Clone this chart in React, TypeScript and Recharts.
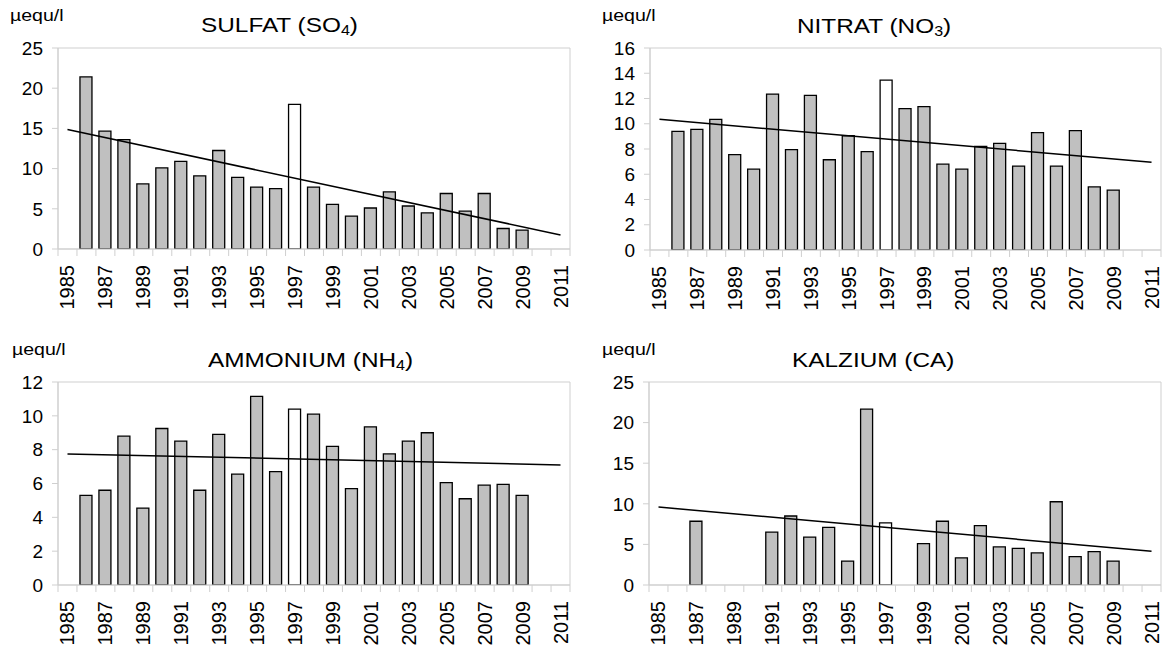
import React from "react";
import { ComposedChart, Bar, Line, XAxis, YAxis, Cell, ReferenceArea } from "recharts";

// categories 1985..2011, bars only where measured
const years = [
  "1985", "1986", "1987", "1988", "1989", "1990", "1991", "1992", "1993",
  "1994", "1995", "1996", "1997", "1998", "1999", "2000", "2001", "2002",
  "2003", "2004", "2005", "2006", "2007", "2008", "2009", "2010", "2011",
];

const sulfat = [
  null, 21.4, 14.65, 13.6, 8.1, 10.1, 10.9, 9.1, 12.25, 8.9, 7.7, 7.5, 18.0,
  7.7, 5.55, 4.1, 5.1, 7.1, 5.35, 4.5, 6.9, 4.7, 6.9, 2.55, 2.35, null, null,
];
const nitrat = [
  null, 9.4, 9.55, 10.35, 7.55, 6.4, 12.35, 7.95, 12.25, 7.15, 9.05, 7.8, 13.45,
  11.2, 11.35, 6.8, 6.4, 8.2, 8.45, 6.65, 9.3, 6.65, 9.45, 5.0, 4.75, null, null,
];
const ammonium = [
  null, 5.3, 5.6, 8.8, 4.55, 9.25, 8.5, 5.6, 8.9, 6.55, 11.15, 6.7, 10.4,
  10.1, 8.2, 5.7, 9.35, 7.75, 8.5, 9.0, 6.05, 5.1, 5.9, 5.95, 5.3, null, null,
];
const kalzium = [
  null, null, 7.85, null, null, null, 6.5, 8.5, 5.9, 7.1, 2.95, 21.65, 7.65,
  null, 5.1, 7.85, 3.35, 7.3, 4.7, 4.5, 3.95, 10.25, 3.5, 4.1, 2.95, null, null,
];

// trend line values at 1985 and 2011
const sulfatTrend = [14.85, 1.75];
const nitratTrend = [10.35, 6.95];
const ammoniumTrend = [7.75, 7.1];
const kalziumTrend = [9.6, 4.15];

const sulfatTicks = [0, 5, 10, 15, 20, 25];
const nitratTicks = [0, 2, 4, 6, 8, 10, 12, 14, 16];
const ammoniumTicks = [0, 2, 4, 6, 8, 10, 12];
const kalziumTicks = [0, 5, 10, 15, 20, 25];

const markedYear = "1997";

const FONT = "'Liberation Sans', Arial, sans-serif";
const GREY = "#cfcfcf";

function buildRows(values: (number | null)[], trend: number[]) {
  return years.map((year, i) => ({
    year,
    value: values[i],
    trend: i === 0 ? trend[0] : i === years.length - 1 ? trend[1] : null,
  }));
}

function YearTick(props: any) {
  const { x, y, payload, index } = props;
  const half = payload.offset ?? 9.5;
  const show = Number(payload.value) % 2 === 1;
  const ty = y + 16;
  return (
    <g>
      <line x1={x - half} x2={x - half} y1={y} y2={y + 7} stroke={GREY} />
      {index === years.length - 1 && (
        <line x1={x + half} x2={x + half} y1={y} y2={y + 7} stroke={GREY} />
      )}
      {show && (
        <text
          x={x}
          y={ty}
          transform={`rotate(-90 ${x} ${ty})`}
          textAnchor="end"
          dominantBaseline="central"
          fontSize={20}
          fontFamily={FONT}
          fill="#000"
        >
          {payload.value}
        </text>
      )}
    </g>
  );
}

function Panel(p: any) {
  const rows = buildRows(p.values, p.trend);
  const yMax = p.ticks[p.ticks.length - 1];
  return (
    <div style={{ position: "absolute", left: p.left, top: p.top, width: p.width, height: p.height }}>
      <div
        style={{
          position: "absolute",
          left: p.unitLeft - p.left,
          top: p.unitTop - p.top,
          fontFamily: FONT,
          fontSize: 16,
          lineHeight: 1,
          whiteSpace: "nowrap",
          transform: "scaleX(1.22)",
          transformOrigin: "left",
        }}
      >
        µequ/l
      </div>
      <div
        style={{
          position: "absolute",
          left: p.titleLeft - p.left,
          top: p.titleTop - p.top,
          fontFamily: FONT,
          fontSize: 21,
          lineHeight: 1,
          whiteSpace: "nowrap",
          transform: "scaleX(1.16)",
          transformOrigin: "left",
        }}
      >
        {p.name} ({p.formula}
        {p.sub && <span style={{ fontSize: "0.66em", verticalAlign: "-0.2em" }}>{p.sub}</span>})
      </div>
      <ComposedChart
        width={p.width}
        height={p.height}
        data={rows}
        margin={{ top: p.plotTop, right: p.right, bottom: 0, left: 0 }}
        style={{ position: "absolute", left: 0, top: 0 }}
      >
        <XAxis
          dataKey="year"
          interval={0}
          tickLine={false}
          tickSize={0}
          tickMargin={0}
          height={p.xHeight}
          axisLine={{ stroke: GREY }}
          tick={(t: any) => <YearTick {...t} />}
        />
        <YAxis
          type="number"
          domain={[0, yMax]}
          ticks={p.ticks}
          interval={0}
          width={p.yWidth}
          tickSize={6}
          tickMargin={9}
          axisLine={{ stroke: GREY }}
          tickLine={{ stroke: GREY }}
          tick={{ fontSize: 19, fill: "#000", fontFamily: FONT }}
          allowDataOverflow
        />
        <ReferenceArea
          x1={years[0]}
          x2={years[years.length - 1]}
          y1={0}
          y2={yMax}
          fill="none"
          stroke={GREY}
          strokeWidth={1}
          ifOverflow="visible"
        />
        <Bar dataKey="value" barSize={12} stroke="#000" strokeWidth={1.3} isAnimationActive={false}>
          {rows.map((r) => (
            <Cell key={r.year} fill={r.year === markedYear ? "#ffffff" : "#c0c0c0"} />
          ))}
        </Bar>
        <Line
          dataKey="trend"
          type="linear"
          connectNulls
          dot={false}
          activeDot={false}
          stroke="#000"
          strokeWidth={1.5}
          isAnimationActive={false}
        />
      </ComposedChart>
    </div>
  );
}

export default function App() {
  return (
    <div style={{ position: "absolute", left: 0, top: 0, width: 1162, height: 645, overflow: "hidden", background: "#fff" }}>
      <Panel
        name="SULFAT" formula="SO" sub="4"
        values={sulfat} trend={sulfatTrend} ticks={sulfatTicks}
        left={0} top={0} width={580} height={320}
        plotTop={48} right={10} yWidth={58} xHeight={71}
        titleLeft={201} titleTop={14} unitLeft={10} unitTop={8}
      />
      <Panel
        name="NITRAT" formula="NO" sub="3"
        values={nitrat} trend={nitratTrend} ticks={nitratTicks}
        left={580} top={0} width={582} height={320}
        plotTop={48} right={1} yWidth={70} xHeight={70}
        titleLeft={797} titleTop={15} unitLeft={602} unitTop={8}
      />
      <Panel
        name="AMMONIUM" formula="NH" sub="4"
        values={ammonium} trend={ammoniumTrend} ticks={ammoniumTicks}
        left={0} top={320} width={580} height={325}
        plotTop={62} right={10} yWidth={58} xHeight={60}
        titleLeft={208} titleTop={349} unitLeft={12} unitTop={342}
      />
      <Panel
        name="KALZIUM" formula="CA" sub=""
        values={kalzium} trend={kalziumTrend} ticks={kalziumTicks}
        left={580} top={320} width={582} height={325}
        plotTop={62} right={1} yWidth={69} xHeight={60}
        titleLeft={792} titleTop={349} unitLeft={602} unitTop={342}
      />
    </div>
  );
}
